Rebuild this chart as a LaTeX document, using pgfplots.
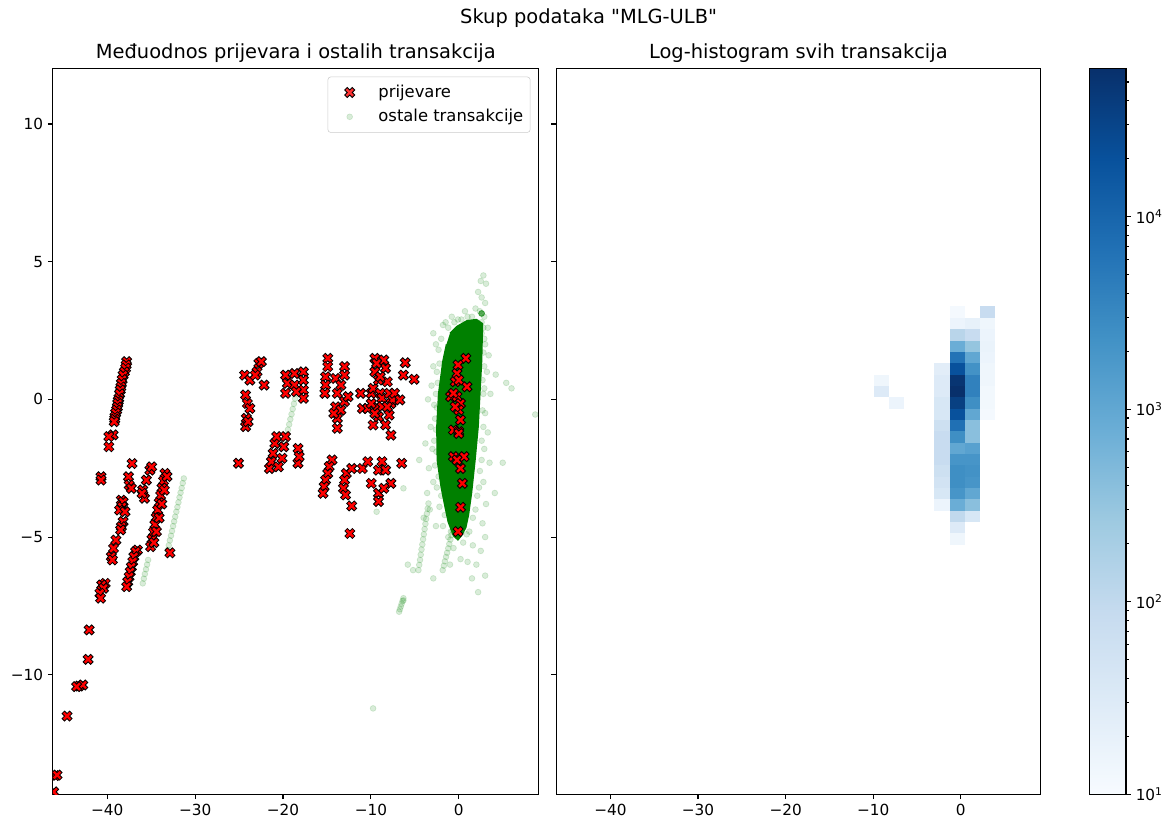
\documentclass[border=0pt]{standalone}
\usepackage{fontspec}
\setmainfont{DejaVu Sans}[Ligatures=TeXOff]
\usepackage{pgfplots}
\pgfplotsset{compat=1.18}
\usepackage{pgfplotstable}

% matplotlib-like "Blues" colormap
\pgfplotsset{
  colormap={blues}{rgb255=(247,251,255) rgb255=(222,235,247) rgb255=(198,219,239)
    rgb255=(158,202,225) rgb255=(107,174,214) rgb255=(66,146,198)
    rgb255=(33,113,181) rgb255=(8,81,156) rgb255=(8,48,107)},
}

% filled "X" marker (half width = mark size)
\pgfdeclareplotmark{fatx}{%
  \pgfpathmoveto{\pgfqpoint{-0.5\pgfplotmarksize}{-\pgfplotmarksize}}%
  \pgfpathlineto{\pgfqpoint{0pt}{-0.5\pgfplotmarksize}}%
  \pgfpathlineto{\pgfqpoint{0.5\pgfplotmarksize}{-\pgfplotmarksize}}%
  \pgfpathlineto{\pgfqpoint{\pgfplotmarksize}{-0.5\pgfplotmarksize}}%
  \pgfpathlineto{\pgfqpoint{0.5\pgfplotmarksize}{0pt}}%
  \pgfpathlineto{\pgfqpoint{\pgfplotmarksize}{0.5\pgfplotmarksize}}%
  \pgfpathlineto{\pgfqpoint{0.5\pgfplotmarksize}{\pgfplotmarksize}}%
  \pgfpathlineto{\pgfqpoint{0pt}{0.5\pgfplotmarksize}}%
  \pgfpathlineto{\pgfqpoint{-0.5\pgfplotmarksize}{\pgfplotmarksize}}%
  \pgfpathlineto{\pgfqpoint{-\pgfplotmarksize}{0.5\pgfplotmarksize}}%
  \pgfpathlineto{\pgfqpoint{-0.5\pgfplotmarksize}{0pt}}%
  \pgfpathlineto{\pgfqpoint{-\pgfplotmarksize}{-0.5\pgfplotmarksize}}%
  \pgfpathclose
  \pgfusepathqfillstroke}

% one histogram bin (1.7275 x 0.41188 data units at the chosen axis scale)
\pgfdeclareplotmark{hbin}{%
  \pgfpathrectanglecorners{\pgfqpoint{-5.47pt}{-4.10pt}}{\pgfqpoint{5.47pt}{4.10pt}}%
  \pgfusepathqfill}

\pgfplotsset{
  mplaxis/.style={
    scale only axis,
    axis line style={line width=0.8pt},
    tick align=outside, tickpos=left,
    major tick length=3.5pt, minor tick length=2pt,
    every tick/.style={black, line width=0.8pt},
    tick label style={font=\fontsize{11}{13}\selectfont},
    every axis title/.style={at={(0.5,1)}, anchor=base, yshift=7.2pt,
      font=\fontsize{14}{16}\selectfont},
    xmin=-46.2, xmax=9.1, ymin=-14.34, ymax=12.02,
    xtick={-40,-30,-20,-10,0}, xticklabels={−40,−30,−20,−10,0},
    ytick={-10,-5,0,5,10},
    clip marker paths=true,
  },
}

\pgfplotstableread{
x y
-37.79 1.37
-37.85 1.25
-37.91 1.13
-38.05 1.00
-38.20 0.88
-38.30 0.72
-38.40 0.58
-38.45 0.45
-38.52 0.34
-38.60 0.20
-38.68 0.04
-38.75 -0.05
-38.80 -0.15
-38.85 -0.28
-38.93 -0.39
-39.05 -0.50
-39.13 -0.63
-39.15 -0.72
-39.21 -0.81
-39.33 -1.29
-39.82 -1.35
-39.82 -1.72
-40.71 -2.81
-40.71 -2.93
-37.18 -2.33
-37.59 -2.81
-37.51 -3.11
-37.26 -3.23
-38.40 -3.66
-38.20 -3.72
-38.32 -3.90
-38.60 -4.02
-37.99 -4.08
-38.20 -4.44
-38.40 -4.62
-38.48 -4.74
-39.01 -5.11
-39.29 -5.41
-39.54 -5.71
-39.41 -5.83
-36.57 -5.47
-36.77 -5.53
-36.98 -5.71
-37.10 -5.89
-37.26 -6.08
-37.38 -6.26
-37.51 -6.44
-37.67 -6.62
-37.79 -6.80
-40.23 -6.68
-40.63 -6.74
-40.43 -6.86
-40.84 -7.04
-40.76 -7.22
-35.96 -3.29
-35.76 -3.59
-35.55 -2.93
-35.15 -2.57
-34.94 -2.45
-36.04 -3.41
-33.44 -2.69
-33.60 -2.96
-33.77 -3.22
-33.93 -3.49
-34.09 -3.75
-34.26 -4.02
-34.42 -4.29
-34.58 -4.55
-34.74 -4.82
-34.91 -5.08
-35.07 -5.35
-33.20 -2.80
-33.50 -3.30
-33.80 -3.80
-34.10 -4.30
-34.40 -4.80
-34.70 -5.20
-32.87 -5.57
-42.06 -8.37
-42.18 -9.44
-43.19 -10.41
-42.79 -10.37
-43.48 -10.43
-44.58 -11.50
-45.92 -13.66
-45.71 -13.64
-46.10 -14.25
-25.07 -2.32
-21.54 -2.51
-21.33 -2.26
-21.13 -1.96
-20.93 -1.60
-20.72 -1.35
-19.71 -1.35
-19.91 -1.72
-20.11 -2.14
-20.52 -2.45
-18.29 -1.78
-18.29 -2.32
-18.16 -2.08
-14.42 -2.20
-14.75 -2.44
-14.91 -2.69
-15.16 -2.93
-15.32 -3.17
-15.44 -3.41
-12.80 -2.69
-13.00 -2.93
-13.12 -3.23
-12.88 -3.47
-12.19 -2.51
-12.19 -3.87
-12.39 -4.87
-10.97 -2.51
-10.36 -2.26
-8.74 -2.26
-9.14 -2.57
-9.96 -3.05
-9.14 -3.41
-9.14 -3.71
-7.72 -3.05
-6.50 -2.32
-7.72 -1.30
-8.33 -2.57
-8.53 -3.23
-24.38 0.88
-23.77 0.70
-22.96 1.00
-22.75 1.31
-22.47 1.37
-22.15 0.52
-24.26 0.16
-24.06 -0.15
-23.77 -0.33
-24.18 -0.69
-24.26 -0.99
-23.97 -0.81
-23.16 0.88
-19.71 0.88
-19.50 0.58
-19.71 0.22
-18.69 0.94
-18.69 0.52
-17.68 1.00
-17.68 0.70
-17.68 0.34
-17.68 0.04
-18.49 0.28
-14.91 1.49
-14.91 1.19
-15.16 0.82
-15.16 0.52
-15.24 0.22
-14.02 0.76
-13.00 1.19
-13.00 0.88
-13.41 0.52
-13.82 0.22
-14.02 -0.27
-13.41 -0.39
-13.82 -0.69
-13.82 -1.05
-13.00 -0.08
-12.60 0.10
-14.22 -0.51
-11.17 0.22
-10.97 -0.33
-10.36 -0.33
-9.96 0.22
-9.75 0.40
-9.55 1.49
-9.55 1.00
-9.14 0.70
-8.94 0.22
-8.74 0.04
-8.53 1.43
-8.33 1.13
-8.13 0.64
-7.92 0.22
-7.72 -0.15
-7.52 -0.02
-7.31 0.22
-6.70 -0.02
-9.75 -0.93
-8.33 -0.93
-9.14 -0.63
-7.92 -0.57
-6.10 1.33
-6.30 0.88
-5.08 0.73
-9.35 -0.27
-8.74 -0.27
-9.96 -0.15
-9.35 1.31
-8.94 0.82
-8.13 -0.27
-9.55 -0.51
0.81 1.49
-0.08 1.25
-0.20 0.94
-0.41 0.64
0.00 0.70
0.93 0.46
-0.93 0.10
-0.20 0.10
0.20 -0.15
0.00 -0.39
0.20 -0.75
-0.61 -1.11
0.00 -1.17
-0.61 0.22
-0.41 -0.27
0.00 -1.24
-0.61 -2.08
0.61 -2.08
0.20 -2.51
0.41 -3.05
0.20 -3.92
-0.08 -4.80
-0.20 -2.20
}\fraud

\pgfplotstableread{
x y
-1.0 2.4
-0.2 2.65
0.9 2.85
2.0 2.9
2.7 2.75
2.6 1.4
2.4 0.2
2.2 -1.0
1.85 -2.2
1.45 -3.4
1.1 -4.2
0.8 -4.65
0.3 -4.95
-0.1 -5.1
-0.6 -4.95
-1.2 -4.45
-1.5 -4.0
-2.0 -3.2
-2.45 -2.2
-2.5 -1.0
-2.3 0.2
-1.8 1.4
-1.4 2.0
}\core

\pgfplotstableread{
x y
2.5 4.3
2.8 4.5
3.1 4.2
2.2 3.9
2.6 3.7
3.0 3.5
1.9 3.3
2.4 3.2
2.9 3.0
1.5 3.0
2.1 2.8
3.3 2.6
1.2 2.8
0.7 3.2
-0.8 3.0
-1.5 2.8
2.6 2.4
3.0 2.0
3.4 1.6
3.2 1.0
2.9 0.4
3.6 0.2
5.4 0.6
3.0 -0.5
3.3 -1.2
2.9 -1.8
3.5 -2.3
5.0 -2.3
4.1 -3.4
2.8 -3.0
3.1 -3.8
2.7 -4.5
3.0 -5.0
2.5 -5.5
2.0 -6.0
3.0 -6.4
2.2 -7.0
1.5 -6.5
8.7 -0.55
6.0 0.4
4.2 0.9
-2.6 2.0
-2.9 1.2
-3.1 0.5
-2.8 -0.2
-3.2 -1.0
-3.0 -1.8
-3.4 -2.5
-2.9 -3.0
-3.6 -3.4
-4.0 -4.3
-3.3 -4.0
-2.6 -4.6
-5.8 -6.0
-5.2 -6.2
-2.9 -6.5
-6.3 -7.3
-4.5 -2.2
-3.8 -1.6
-3.5 0.0
-2.9 2.4
-1.8 2.7
2.6 3.12
2.6 3.12
2.6 3.12
2.6 3.12
2.6 3.12
2.6 3.12
-2.3 1.8
-2.5 1.0
-2.6 0.2
-2.7 -0.7
-2.8 -1.5
-2.7 -2.4
-2.5 -3.2
-2.2 -3.9
-1.8 -4.6
-1.2 -5.0
0.5 -5.2
1.2 -4.8
1.9 -4.0
2.3 -3.2
2.6 -2.2
2.8 -1.0
2.8 0.2
2.9 1.2
2.9 2.2
2.6 2.8
0.3 2.9
-0.5 2.8
-1.2 2.6
1.6 -5.3
-0.6 -5.4
0.2 -5.8
1.0 -5.9
-1.0 -6.0
-2.0 2.2
-2.2 1.3
-2.4 0.6
-2.5 -0.3
-2.6 -1.1
-2.55 -1.9
-2.3 -2.8
-2.0 -3.5
-1.6 -4.2
-0.9 -4.8
0.9 -4.9
1.6 -4.3
2.1 -3.5
2.4 -2.6
2.6 -1.5
2.7 -0.4
2.7 0.7
2.8 1.7
2.8 2.6
1.0 3.0
-0.1 2.9
-3.45 -3.78
-3.54 -3.97
-3.63 -4.15
-3.71 -4.34
-3.80 -4.52
-3.89 -4.71
-3.98 -4.90
-4.06 -5.08
-4.15 -5.27
-4.24 -5.45
-4.33 -5.64
-4.41 -5.83
-4.50 -6.01
-4.59 -6.20
-0.20 -4.14
-0.33 -4.30
-0.45 -4.46
-0.58 -4.62
-0.70 -4.77
-0.83 -4.93
-0.95 -5.09
-1.08 -5.25
-1.20 -5.41
-1.33 -5.57
-1.45 -5.72
-1.58 -5.88
-1.70 -6.04
-1.83 -6.20
-6.30 -7.22
-6.40 -7.32
-6.50 -7.42
-6.60 -7.52
-6.70 -7.62
-6.79 -7.71
-18.49 0.22
-18.63 0.03
-18.76 -0.16
-18.90 -0.35
-19.03 -0.54
-19.17 -0.72
-19.30 -0.91
-19.44 -1.10
-19.57 -1.29
-19.71 -1.48
-31.29 -2.87
-31.41 -3.04
-31.53 -3.22
-31.66 -3.39
-31.78 -3.56
-31.90 -3.74
-32.02 -3.91
-32.14 -4.08
-32.27 -4.26
-32.39 -4.43
-32.51 -4.60
-32.63 -4.78
-32.75 -4.95
-32.88 -5.12
-33.00 -5.30
-33.12 -5.47
-35.35 -5.83
-35.47 -6.00
-35.59 -6.17
-35.72 -6.34
-35.84 -6.51
-35.96 -6.68
-9.75 -11.22
-9.35 -4.08
-6.30 -3.23
}\others

% 2D histogram: bin centre and log10(count)
\pgfplotstableread{
x y t
-0.421 3.166 1.05
-0.421 2.754 1.2
-0.421 2.342 2.1
-0.421 1.930 2.9
-0.421 1.518 3.8
-0.421 1.106 4.3
-0.421 0.694 4.7
-0.421 0.282 4.77
-0.421 -0.130 4.55
-0.421 -0.542 4.3
-0.421 -0.954 3.85
-0.421 -1.366 3.4
-0.421 -1.778 3.0
-0.421 -2.190 3.3
-0.421 -2.601 3.4
-0.421 -3.013 3.4
-0.421 -3.425 3.3
-0.421 -3.837 2.9
-0.421 -4.249 2.0
-0.421 -4.661 1.5
-0.421 -5.073 1.15
1.306 2.754 1.3
1.306 2.342 1.9
1.306 1.930 2.5
1.306 1.518 3.0
1.306 1.106 3.35
1.306 0.694 3.6
1.306 0.282 3.6
1.306 -0.130 3.4
1.306 -0.542 3.0
1.306 -0.954 2.6
1.306 -1.366 2.6
1.306 -1.778 3.1
1.306 -2.190 3.3
1.306 -2.601 3.35
1.306 -3.013 3.3
1.306 -3.425 3.0
1.306 -3.837 2.6
1.306 -4.249 1.6
-2.149 1.106 1.4
-2.149 0.694 1.5
-2.149 0.282 1.5
-2.149 -0.130 1.6
-2.149 -0.542 1.6
-2.149 -0.954 1.8
-2.149 -1.366 1.9
-2.149 -1.778 1.9
-2.149 -2.190 1.9
-2.149 -2.601 1.8
-2.149 -3.013 1.7
-2.149 -3.425 1.6
-2.149 -3.837 1.2
3.034 3.166 1.9
3.034 2.754 1.15
3.034 2.342 1.2
3.034 1.930 1.25
3.034 1.518 1.2
3.034 1.106 1.15
3.034 0.694 1.15
3.034 0.282 1.1
3.034 -0.130 1.1
3.034 -0.542 1.05
-9.059 0.694 1.15
-9.059 0.282 1.5
-7.331 -0.130 1.2
}\hist

\begin{document}
\begin{tikzpicture}
\path[use as bounding box] (0pt,0pt) rectangle (843.12pt,592.56pt);

% left panel: fraud vs. other transactions
\begin{axis}[mplaxis,
  at={(38.0pt,20.66pt)}, anchor=south west,
  width=349.9pt, height=522.7pt,
  yticklabels={−10,−5,0,5,10},
  title={Međuodnos prijevara i ostalih transakcija},
  legend cell align=left,
  legend image code/.code={\path (0pt,0pt) (31pt,0pt); \draw[#1] plot coordinates {(12.5pt,0pt)};},
  legend style={at={(1,1)}, anchor=north east, xshift=-6pt, yshift=-6pt,
    draw=black!20, fill=white, fill opacity=0.8, text opacity=1,
    rounded corners=2pt, font=\fontsize{11.8}{14}\selectfont,
    inner ysep=4pt, row sep=3pt},
]
\addlegendimage{only marks, mark=fatx, mark size=3.6pt, mark options={fill=red, draw=black, line width=0.6pt}}
\addlegendentry{prijevare}
\addlegendimage{only marks, mark=*, mark size=2.1pt, mark options={fill=green!50!black, draw=green!50!black, opacity=0.15}}
\addlegendentry{ostale transakcije}

\addplot[fill=green!50!black, draw=green!50!black, line width=1pt, forget plot] table {\core};
\addplot[only marks, mark=*, mark size=2.1pt,
  mark options={fill=green!50!black, draw=green!50!black, line width=0.5pt, opacity=0.15},
  forget plot] table {\others};
\addplot[only marks, mark=fatx, mark size=3.6pt,
  mark options={fill=red, draw=black, line width=0.6pt}, forget plot] table {\fraud};
\end{axis}

% right panel: log-scaled 2D histogram
\begin{axis}[mplaxis,
  at={(400.4pt,20.66pt)}, anchor=south west,
  width=348.8pt, height=522.7pt,
  yticklabels={{},{},{},{},{}},
  title={Log-histogram svih transakcija},
  point meta min=1, point meta max=4.77,
]
\addplot[scatter, only marks, mark=hbin, point meta=explicit,
  scatter/use mapped color={draw=none, fill=mapped color}]
  table[x=x, y=y, meta=t] {\hist};
\end{axis}

% colour bar
\begin{axis}[
  at={(784.6pt,20.66pt)}, anchor=south west, scale only axis,
  width=26.1pt, height=522.7pt,
  ymode=log, ymin=10, ymax=58900, xmin=0, xmax=1,
  enlargelimits=false, axis on top,
  axis line style={line width=0.8pt},
  xtick=\empty,
  ytick={10,100,1000,10000},
  yticklabels={10\textsuperscript{1},10\textsuperscript{2},10\textsuperscript{3},10\textsuperscript{4}},
  minor ytick={20,30,40,50,60,70,80,90,200,300,400,500,600,700,800,900,2000,3000,4000,5000,6000,7000,8000,9000,20000,30000,40000,50000},
  ytick pos=right, yticklabel pos=right,
  tick align=outside,
  major tick length=3.5pt, minor tick length=2pt,
  every tick/.style={black, line width=0.8pt},
  tick label style={font=\fontsize{11}{13}\selectfont},
  point meta min=1, point meta max=4.77,
]
\addplot[surf, shader=interp, mesh/rows=2, point meta=explicit]
  coordinates {(0,10) [1] (1,10) [1] (0,58900) [4.77] (1,58900) [4.77]};
\end{axis}

\node[anchor=base, font=\fontsize{14}{16}\selectfont] at (423.8pt,575.5pt) {Skup podataka "MLG-ULB"};
\end{tikzpicture}
\end{document}
